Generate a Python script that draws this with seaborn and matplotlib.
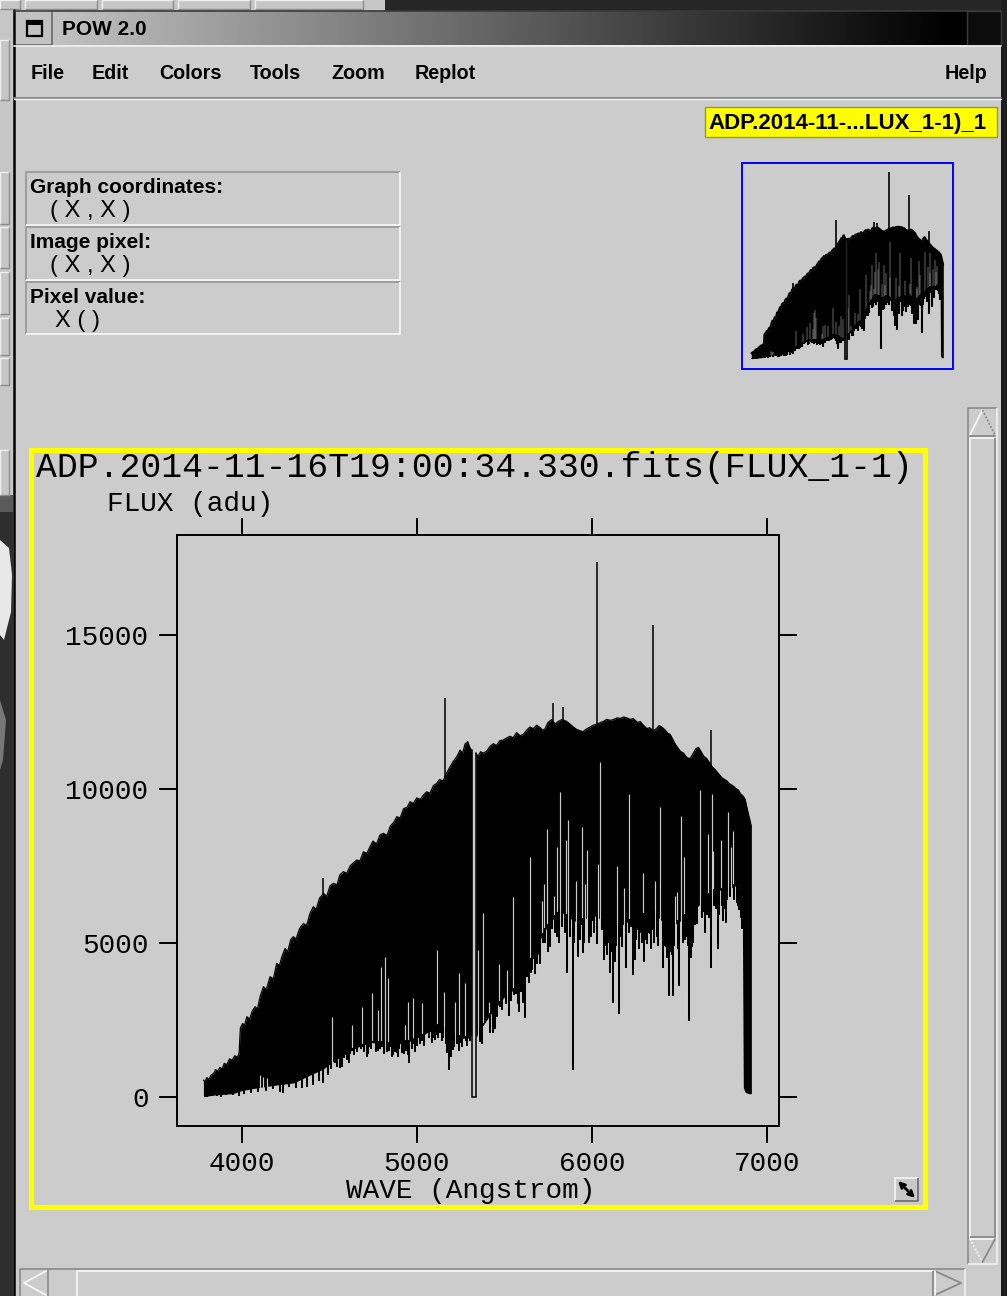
import numpy as np
import matplotlib
matplotlib.use("Agg")
import matplotlib.pyplot as plt
import seaborn as sns
from matplotlib.patches import Rectangle, Polygon

# ---------------- data ----------------
window_title = "POW 2.0"
menu_items = ["File", "Edit", "Colors", "Tools", "Zoom", "Replot"]
menu_x = [31, 92, 159, 250, 331, 415]
help_item = "Help"
short_label = "ADP.2014-11-...LUX_1-1)_1"
info_labels = ["Graph coordinates:", "Image pixel:", "Pixel value:"]
info_values = ["( X , X )", "( X , X )", "X ( )"]
title_text = "ADP.2014-11-16T19:00:34.330.fits(FLUX_1-1)"
x_label = "WAVE (Angstrom)"
y_label = "FLUX (adu)"
x_ticks = [4000, 5000, 6000, 7000]
y_ticks = [0, 5000, 10000, 15000]
x_limits = [3630, 7070]
y_limits = [-951, 18237]

# upper edge of the spectrum
top_wave = [3781, 3790, 3800, 3812, 3825, 3840, 3850, 3862, 3875, 3888,
            3900, 3915, 3930, 3945, 3960, 3975, 3985, 3992, 4005, 4015,
            4029, 4045, 4060, 4076, 4090, 4105, 4124, 4140, 4162, 4180,
            4200, 4215, 4230, 4248, 4262, 4280, 4295, 4310, 4330, 4352,
            4370, 4390, 4409, 4425, 4445, 4467, 4485, 4505, 4524, 4545,
            4560, 4581, 4600, 4620, 4640, 4657, 4675, 4695, 4715, 4733,
            4750, 4770, 4790, 4810, 4830, 4850, 4868, 4886, 4905, 4925,
            4945, 4962, 4980, 5000, 5020, 5038, 5057, 5075, 5095, 5114,
            5130, 5150, 5170, 5191, 5210, 5230, 5248, 5262, 5276, 5291,
            5305, 5314,
            5338, 5350, 5365, 5380, 5400, 5420, 5438, 5455, 5475, 5495,
            5515, 5533, 5550, 5571, 5590, 5609, 5628, 5647, 5665, 5686,
            5705, 5720, 5733, 5750, 5771, 5790, 5809, 5830, 5857, 5875,
            5895, 5915, 5933, 5950, 5971, 5990, 6009, 6030, 6050, 6066,
            6085, 6105, 6124, 6145, 6162, 6181, 6200, 6220, 6238, 6260,
            6276, 6295, 6315, 6330, 6352, 6370, 6385, 6400, 6420, 6435,
            6448, 6465, 6480, 6505, 6525, 6545, 6562, 6580, 6595, 6610,
            6625, 6640, 6657, 6672, 6690, 6705, 6725, 6745, 6771, 6790,
            6810, 6825, 6838, 6852, 6860, 6866, 6876, 6886, 6895, 6905, 6912]
top_flux = [541, 480, 620, 560, 700, 760, 880, 830, 950, 900,
            1080, 1040, 1230, 1180, 1330, 1280, 1420, 2219, 2380, 2300,
            2598, 2520, 2780, 2922, 2850, 3250, 3571, 3480, 3896, 3820,
            4329, 4250, 4560, 4816, 4700, 5100, 5195, 5120, 5450, 5628,
            5550, 5950, 6169, 6080, 6450, 6602, 6500, 6850, 6927, 6880,
            7200, 7306, 7250, 7500, 7600, 7684, 7650, 7950, 7900, 8117,
            8300, 8200, 8500, 8550, 8480, 8800, 8900, 9091, 9050, 9350,
            9400, 9578, 9520, 9700, 9650, 9795, 9900, 9850, 10100, 10174,
            10300, 10250, 10500, 10715, 10900, 11050, 11256, 11150, 11450, 11527,
            11310, 11250,
            11150, 11050, 11200, 11150, 11220, 11380, 11461, 11400, 11560, 11581,
            11650, 11702, 11650, 11822, 11720, 11762, 11900, 12002, 11950, 12062,
            11980, 11900, 11942, 12150, 12243, 12100, 12183, 12250, 12183, 12100,
            12002, 11920, 11882, 11850, 11942, 12000, 12062, 12100, 12150, 12183,
            12250, 12220, 12243, 12300, 12280, 12327, 12300, 12250, 12279, 12150,
            12182, 12062, 11950, 11980, 11882, 11950, 12050, 12002, 11900, 11800,
            11762, 11580, 11420, 11221, 11150, 11000, 10980, 11150, 11300, 11341,
            11200, 11050, 10980, 10850, 10700, 10620, 10480, 10350, 10259, 10150,
            10080, 10000, 9958, 9820, 9790, 9750, 9658, 9400, 9177, 8950, 8756]

# bottom of the solid black body
floor_wave = [3781, 3850, 3950, 4000, 4100, 4200, 4300, 4352, 4409, 4467,
              4524, 4581, 4657, 4733, 4810, 4886, 4962, 5038, 5114, 5191,
              5248, 5291, 5314, 5338, 5343, 5400, 5438, 5495, 5533, 5571,
              5609, 5647, 5686, 5733, 5771, 5809, 5857, 5895, 5933, 5971,
              6009, 6066, 6124, 6181, 6238, 6295, 6352, 6400, 6448, 6505,
              6562, 6610, 6657, 6705, 6771, 6838, 6860, 6866, 6876, 6895, 6912]
floor_flux = [0, 60, 100, 200, 300, 380, 450, 600, 750, 900,
              1150, 1350, 1600, 1750, 1750, 1700, 1800, 2000, 2300, 2100,
              1900, 1900, 2000, 1900, 2000, 2500, 2800, 3200, 3400, 3500,
              3900, 4400, 4900, 5400, 5700, 6000, 5900, 5700, 5700, 5800,
              5900, 5700, 5500, 5600, 5800, 5900, 6000, 5700, 5500, 5700,
              6000, 6200, 6500, 6700, 6700, 6900, 6500, 300, 150, 100, 100]

# zero-flux gap in the data
zero_gap = [5314, 5338]
zero_level = 0

# absorption lines hanging below the solid body
dip_wave = [3800, 3830, 3860, 3880, 3910, 3950, 3985, 4010, 4050, 4090,
            4140, 4180, 4219, 4238, 4270, 4310, 4343, 4371, 4409, 4440,
            4467, 4490, 4510, 4530, 4545,
            4562, 4571, 4585, 4600, 4610, 4620, 4630, 4640, 4660, 4680,
            4690, 4700, 4714, 4720, 4730, 4740, 4752, 4765, 4780, 4790,
            4800, 4810, 4830, 4840, 4850, 4860, 4867, 4875, 4886, 4895,
            4900, 4914, 4925, 4940, 4948, 4958, 4970, 4980, 4990, 5000,
            5010, 5020, 5030, 5042, 5057, 5068, 5080, 5088, 5095, 5102,
            5110, 5120, 5133, 5142, 5150, 5165, 5175, 5187, 5195, 5206,
            5215, 5230, 5240, 5250, 5257, 5270, 5280, 5285, 5295, 5305,
            5362, 5371, 5380, 5390, 5400, 5419, 5434, 5447, 5460, 5475,
            5486, 5499, 5510, 5529, 5540, 5555, 5567, 5578, 5587, 5597,
            5606, 5619, 5632, 5640, 5651, 5660, 5667, 5678, 5689, 5697,
            5705, 5720, 5735, 5750, 5762, 5771, 5790, 5800, 5815, 5830,
            5845, 5861, 5875, 5891, 5900, 5922, 5930, 5937, 5948, 5955,
            5985, 5995, 6000, 6015, 6028, 6060, 6070, 6080, 6089, 6095,
            6105, 6115, 6120, 6133, 6140, 6158, 6165, 6171, 6196, 6215,
            6223, 6234, 6240, 6247, 6255, 6261, 6268, 6276, 6285, 6299,
            6305, 6314, 6320, 6333, 6340, 6348, 6355, 6370, 6380, 6406,
            6415, 6425, 6432, 6440, 6445, 6451, 6457, 6463, 6470, 6495,
            6501, 6520, 6535, 6543, 6550, 6558, 6565, 6571, 6580, 6590,
            6600, 6628, 6634, 6642, 6649, 6660, 6672, 6682, 6700, 6710,
            6720, 6728, 6745, 6752, 6760, 6767, 6775, 6790, 6815, 6828,
            6835, 6844, 6850, 6857]
dip_flux = [0, 20, 30, 0, 40, 60, 30, 100, 120, 150,
            200, 250, 160, 130, 300, 280, 270, 325, 379, 500,
            433, 700, 900, 1100, 950,
            920, 974, 1250, 1190, 1100, 1400, 1500, 1350, 1450, 1550,
            1600, 1450, 1300, 1400, 1600, 1550, 1732, 1450, 1500, 1550,
            1600, 1400, 1450, 1500, 1600, 1300, 1353, 1450, 1407, 1300,
            1550, 1407, 1400, 1500, 1350, 1082, 1550, 1700, 1450, 1650,
            1894, 1700, 1800, 1650, 2100, 1900, 2100, 1750, 1900, 1850,
            2000, 1900, 2056, 1800, 1900, 1700, 1407, 866, 1300, 1515,
            1600, 1700, 1500, 1750, 1624, 1900, 1800, 1650, 1948, 1800,
            1786, 1721, 2300, 2400, 2500, 2082, 2082, 2202, 2600, 2900,
            2803, 3284, 3000, 2623, 3100, 3300, 3344, 3000, 2743, 3400,
            3044, 2563, 3885, 3700, 4006, 4100, 4487, 4000, 4306, 4600,
            4306, 5000, 5000, 4700, 4848, 5449, 5300, 5200, 5000, 5500,
            5300, 4006, 5200, 879, 5000, 4547, 5100, 5569, 4667, 5000,
            5000, 5200, 5689, 5328, 4968, 5400, 4427, 4900, 4607, 5000,
            4006, 4700, 3044, 4367, 4900, 2683, 5200, 4848, 4186, 5300,
            5500, 3946, 5000, 4427, 5100, 5400, 4800, 5300, 5000, 4367,
            5100, 4968, 5300, 5268, 4800, 5400, 5000, 5200, 4900, 4186,
            4900, 4848, 4500, 3284, 4700, 4908, 4600, 3284, 4900, 4800,
            3585, 5000, 5100, 5200, 4900, 2443, 4500, 4848, 5000, 5569,
            5600, 5800, 6200, 6000, 5328, 5900, 5800, 4186, 6200, 6100,
            4787, 5900, 6200, 5689, 6100, 5629, 6400, 6500, 6400, 6300,
            6200, 6050, 5800, 5449]

# light gaps reaching up into the black body
gap_wave = [4105, 4124, 4143, 4518, 4629, 4686, 4743, 4781, 4796, 4819,
            4838, 4933, 4949, 4977, 5032, 5114, 5156, 5219, 5242, 5276,
            5352, 5381, 5410, 5470, 5514, 5548, 5647, 5716, 5727, 5743,
            5785, 5804, 5819, 5853, 5867, 5910, 5943, 5962, 5975, 6038,
            6048, 6147, 6185, 6210, 6291, 6362, 6390, 6476, 6489, 6510,
            6528, 6619, 6665, 6689, 6695, 6737, 6780, 6794, 6806]
gap_top = [700, 650, 600, 2598, 2327, 2922, 3355, 2814, 4221, 4546,
           3842, 2327, 3085, 3193, 3031, 4762, 3409, 3085, 4005, 3680,
           4762, 5953, 3085, 4300, 4126, 6470, 7792, 6351, 6892, 8695,
           6531, 8094, 9896, 8335, 9000, 7012, 8756, 6892, 8000, 7553,
           10860, 7493, 6772, 9837, 7252, 7012, 9416, 6531, 6651, 9116,
           7794, 9957, 8515, 9837, 7974, 8335, 9236, 8094, 8636]

# narrow emission spikes above the envelope
spike_wave = [4466, 5162, 5781, 5838, 6029, 6350, 6682]
spike_flux = [7091, 12950, 12782, 12662, 17360, 15300, 11900]

# ---------------- styling ----------------
BG = "#cccccc"
W, H = 1007, 1296
sns.set_style("white")
plt.rcParams["font.family"] = ["Liberation Mono", "DejaVu Sans"]
SANS = ["Liberation Sans", "DejaVu Sans"]

fig = plt.figure(figsize=(W / 100, H / 100), dpi=100)
fig.patch.set_facecolor(BG)

bg = fig.add_axes([0, 0, 1, 1], zorder=0)
bg.set_xlim(0, W)
bg.set_ylim(H, 0)
bg.axis("off")


def rect(x0, y0, x1, y1, fc="none", ec="none", lw=0.0, z=1):
    bg.add_patch(Rectangle((x0, y0), x1 - x0, y1 - y0, facecolor=fc,
                           edgecolor=ec, linewidth=lw, zorder=z))


def bevel(x0, y0, x1, y1, tl="#f4f4f4", br="#8a8a8a", lw=1.2, z=2):
    bg.plot([x0, x0, x1], [y1, y0, y0], color=tl, lw=lw, zorder=z,
            solid_capstyle="butt")
    bg.plot([x0, x1, x1], [y1, y1, y0], color=br, lw=lw, zorder=z,
            solid_capstyle="butt")


# --- surroundings (other windows / desktop) ---
rect(0, 0, 385, 11, fc="#c6c6c6")
for a, b in [(0, 20), (25, 97), (102, 173), (178, 250), (255, 363)]:
    bevel(a, 0, b, 9, tl="#efefef", br="#8c8c8c", lw=1)
rect(385, 0, W, 11, fc="#262626")
rect(0, 11, 13, 510, fc="#c6c6c6")
for a, b in [(40, 100), (172, 224), (227, 268), (272, 314), (318, 355),
             (358, 385), (450, 495)]:
    bevel(0, a, 9, b, tl="#efefef", br="#8c8c8c", lw=1)
rect(0, 495, 13, 512, fc="#5a5a5a")
rect(0, 512, 13, H, fc="#2e2e2e")
bg.add_patch(Polygon([(0, 540), (9, 548), (12, 575), (11, 612), (4, 640),
                      (0, 635)], closed=True, facecolor="#e8e8e8",
                     edgecolor="none", zorder=2))
bg.add_patch(Polygon([(0, 700), (6, 720), (3, 760), (0, 770)], closed=True,
                     facecolor="#777777", edgecolor="none", zorder=2))
rect(1001, 0, W, H, fc="#1e1e1e")
bg.plot([13.5, 13.5], [10, H], color="black", lw=1.8, zorder=3)

# --- title bar ---
xs = np.linspace(52, 1000, 400)
grad = np.clip(0.76 * (1 - (xs - 52) / 900), 0, 1)[None, :]
bg.imshow(grad, extent=(52, 1000, 45, 11), cmap="gray", vmin=0, vmax=1,
          aspect="auto", zorder=1, interpolation="bilinear")
rect(15, 11, 52, 45, fc="#c2c2c2")
bevel(15, 11, 52, 45, tl="#f0f0f0", br="#6a6a6a", lw=1.2)
rect(27, 21, 42, 36, fc="none", ec="black", lw=1.6, z=3)
rect(27, 21, 42, 25, fc="black", z=3)
rect(967, 11, 1001, 45, fc="#0c0c0c", ec="#3c3c3c", lw=1, z=2)
bg.plot([14, 1001], [10.5, 10.5], color="#3a3a3a", lw=1.2, zorder=3)
bg.text(62, 35, window_title, family=SANS, weight="bold", fontsize=15,
        color="black", va="baseline", ha="left", zorder=4)

# --- menu bar ---
bg.plot([14, 1001], [46, 46], color="#f2f2f2", lw=1.2, zorder=3)
for lab, x in zip(menu_items, menu_x):
    bg.text(x, 79, lab, family=SANS, weight="bold", fontsize=14.2,
            color="black", va="baseline", ha="left", zorder=4)
bg.text(987, 79, help_item, family=SANS, weight="bold", fontsize=14.2,
        color="black", va="baseline", ha="right", zorder=4)
bg.plot([14, 1001], [97.5, 97.5], color="#858585", lw=1.3, zorder=3)
bg.plot([14, 1001], [99.2, 99.2], color="#f0f0f0", lw=1.0, zorder=3)

# --- yellow short label ---
rect(705, 107, 997, 137, fc="#ffff00", ec="#9a9a1a", lw=1.0, z=2)
bg.text(708, 129, short_label, family=SANS, weight="bold", fontsize=16,
        color="black", va="baseline", ha="left", zorder=4)

# --- info boxes ---
box_rows = [(172, 225), (227, 280), (282, 334)]
lab_base = [193, 248, 303]
val_base = [217, 272, 327]
val_x = [50, 50, 55]
for (y0, y1), lab, val, lb, vb, vx in zip(box_rows, info_labels, info_values,
                                          lab_base, val_base, val_x):
    bevel(26, y0, 400, y1, tl="#9a9a9a", br="#f6f6f6", lw=1.3)
    bg.text(30, lb, lab, family=SANS, weight="bold", fontsize=15,
            color="black", va="baseline", ha="left", zorder=4)
    bg.text(vx, vb, val, family=SANS, fontsize=17, color="black",
            va="baseline", ha="left", zorder=4)

# --- yellow plot frame ---
rect(31, 449.5, 924.5, 1206.5, fc="none", ec="#ffff00", lw=3.7, z=3)

# --- resize icon ---
rect(895, 1178, 918, 1201, fc="#c8c8c8", z=3)
bevel(895, 1178, 918, 1201, tl="#f6f6f6", br="#6a6a6a", lw=1.2, z=4)
bg.annotate("", xy=(915, 1198), xytext=(898, 1181), zorder=5,
            arrowprops=dict(arrowstyle="<->", lw=2.0, color="black",
                            mutation_scale=9, shrinkA=0, shrinkB=0))

# --- vertical scrollbar ---
bevel(968, 408, 997, 1264, tl="#8a8a8a", br="#f2f2f2", lw=1.2)
bg.plot([970, 982.5], [435, 410], color="#f6f6f6", lw=1.3, zorder=3)
bg.plot([982.5, 995], [410, 435], color="#8a8a8a", lw=1.3, zorder=3,
        ls=(0, (1, 1)))
bg.plot([970, 995], [436, 436], color="#8a8a8a", lw=1.3, zorder=3)
bevel(970, 438, 995, 1237, tl="#f6f6f6", br="#8a8a8a", lw=1.3)
bg.plot([970, 995], [1239, 1239], color="#f6f6f6", lw=1.3, zorder=3)
bg.plot([970, 982.5], [1239, 1262], color="#f6f6f6", lw=1.3, zorder=3,
        ls=(0, (1, 1)))
bg.plot([982.5, 995], [1262, 1239], color="#8a8a8a", lw=1.3, zorder=3)

# --- horizontal scrollbar ---
bevel(20, 1269, 965, 1297, tl="#8a8a8a", br="#f2f2f2", lw=1.2)
bg.plot([46, 24, 46], [1271, 1283, 1295], color="#f6f6f6", lw=1.3, zorder=3)
bg.plot([48, 48], [1270, 1296], color="#8a8a8a", lw=1.2, zorder=3)
bevel(77, 1271, 933, 1297, tl="#f6f6f6", br="#8a8a8a", lw=1.3)
bg.plot([935, 961, 935], [1271, 1283, 1295], color="#8a8a8a", lw=1.3,
        zorder=3)
bg.plot([935, 935], [1271, 1295], color="#f6f6f6", lw=1.3, zorder=3)


# ---------------- spectrum drawing ----------------
def draw_spectrum(ax, edge_lw, dip_lw, gap_lw, spike_lw):
    w = np.asarray(top_wave, float)
    top = np.asarray(top_flux, float)
    flo = np.interp(w, floor_wave, floor_flux)
    fw = np.asarray(floor_wave, float)
    ff = np.asarray(floor_flux, float)
    left = w <= zero_gap[0]
    right = w >= zero_gap[1]
    for m in (left, right):
        ax.fill_between(w[m], flo[m], top[m], color="black", lw=0, zorder=2)
        sns.lineplot(x=w[m], y=top[m], ax=ax, color="black",
                     linewidth=edge_lw, estimator=None, sort=False, zorder=3)
    gw = np.asarray(gap_wave, float)
    ax.vlines(gw, np.interp(gw, fw, ff) - 60, np.asarray(gap_top, float),
              color=BG, lw=gap_lw, zorder=4)
    dw = np.asarray(dip_wave, float)
    ax.vlines(dw, np.interp(dw, fw, ff) + 60, np.asarray(dip_flux, float),
              color="black", lw=dip_lw, zorder=5)
    sw = np.asarray(spike_wave, float)
    ax.vlines(sw, np.interp(sw, w, top) - 60, np.asarray(spike_flux, float),
              color="black", lw=spike_lw, zorder=5)
    g0, g1 = zero_gap
    ax.plot([g0, g0, g1, g1],
            [np.interp(g0, w, top), zero_level, zero_level,
             np.interp(g1, w, top)],
            color="black", lw=spike_lw, zorder=5, solid_joinstyle="miter")
    ax.set_xlim(*x_limits)
    ax.set_ylim(*y_limits)
    ax.set_xlabel("")
    ax.set_ylabel("")


# --- main plot ---
ax = fig.add_axes([177 / W, 1 - 1126 / H, 602 / W, 591 / H], zorder=2)
ax.set_facecolor(BG)
draw_spectrum(ax, edge_lw=0.9, dip_lw=1.45, gap_lw=0.85, spike_lw=1.1)
ax.set_xticks(x_ticks)
ax.set_yticks(y_ticks)
ax.set_xticklabels([str(v) for v in x_ticks])
ax.set_yticklabels([str(v) for v in y_ticks])
for sp in ax.spines.values():
    sp.set_visible(True)
    sp.set_color("black")
    sp.set_linewidth(1.4)
ax.tick_params(axis="x", which="major", direction="out", length=12.2,
               width=1.4, top=True, bottom=True, labeltop=False,
               labelbottom=True, labelsize=20, pad=6, colors="black")
ax.tick_params(axis="y", which="major", direction="out", length=13,
               width=1.4, left=True, right=True, labelleft=True,
               labelright=False, labelsize=20, pad=7.5, colors="black")
for t in ax.get_xticklabels() + ax.get_yticklabels():
    t.set_family("Liberation Mono")

bg.text(36, 477, title_text, family="Liberation Mono", fontsize=25,
        color="black", va="baseline", ha="left", zorder=4)
bg.text(107, 511, y_label, family="Liberation Mono", fontsize=20,
        color="black", va="baseline", ha="left", zorder=4)
bg.text(346, 1198, x_label, family="Liberation Mono", fontsize=20,
        color="black", va="baseline", ha="left", zorder=4)

# --- thumbnail preview ---
th = fig.add_axes([742 / W, 1 - 369 / H, 211 / W, 206 / H], zorder=2)
th.set_facecolor(BG)
draw_spectrum(th, edge_lw=1.2, dip_lw=1.5, gap_lw=0.35, spike_lw=1.2)
th.set_xticks([])
th.set_yticks([])
for sp in th.spines.values():
    sp.set_visible(True)
    sp.set_color("#0000ff")
    sp.set_linewidth(1.4)

fig.savefig("out.png", dpi=100, facecolor=BG)
